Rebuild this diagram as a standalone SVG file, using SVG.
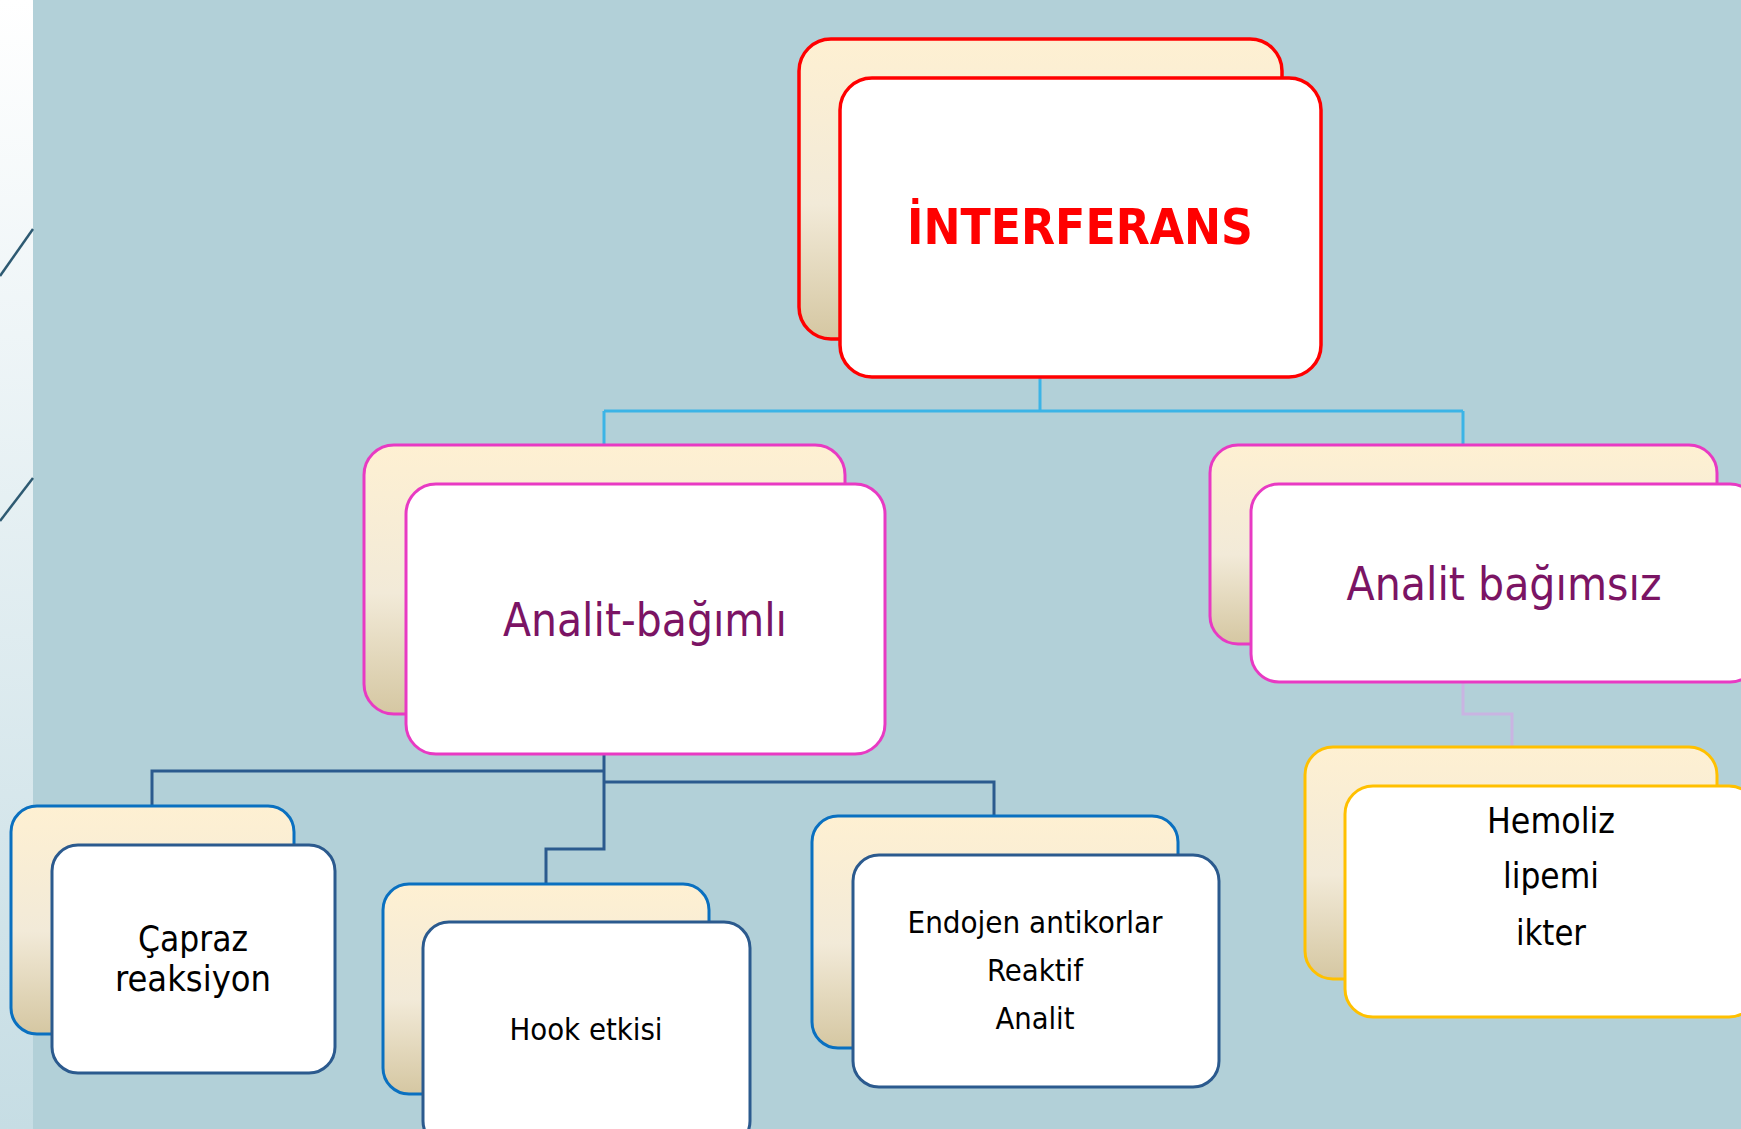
<svg xmlns="http://www.w3.org/2000/svg" width="1741" height="1129" viewBox="0 0 1741 1129">
<defs>
<linearGradient id="strip" x1="0" y1="0" x2="0" y2="1">
<stop offset="0" stop-color="#FFFFFF"/>
<stop offset="1" stop-color="#C6DDE4"/>
</linearGradient>
<linearGradient id="cream" x1="0" y1="0" x2="0" y2="1">
<stop offset="0" stop-color="#FEF0D2"/>
<stop offset="0.55" stop-color="#F2EAD8"/>
<stop offset="1" stop-color="#D5C7A2"/>
</linearGradient>
<style>
.back{fill:url(#cream);stroke-width:3}
.front{fill:#FFFFFF;stroke-width:3}
.red{stroke:#FF0000;stroke-width:3.5}
.pink{stroke:#E83AC3}
.amber{stroke:#FFC000}
.bb{stroke:#0A70C0}
.bf{stroke:#2B5A8E}
.conn{fill:none;stroke-width:3}
.t{font-family:"DejaVu Sans Condensed","DejaVu Sans",sans-serif;text-anchor:middle}
.black{fill:#000000}
.purple{fill:#7B1464}
</style>
</defs>
<rect x="0" y="0" width="1741" height="1129" fill="#B2D0D8"/>
<rect x="0" y="0" width="33" height="1129" fill="url(#strip)"/>
<g id="strip-lines" stroke="#2E5A72" stroke-width="2.5">
<line x1="0" y1="276" x2="33" y2="229"/>
<line x1="0" y1="521" x2="33" y2="478"/>
</g>
<g id="connectors">
<path class="conn" stroke="#3CB4E6" d="M1040 377 V411 M604 411 H1463 M604 411 V445 M1463 411 V445"/>
<path class="conn" stroke="#2B5A8E" d="M604 754 V849 H546 V884 M604 771 H152 V807 M604 782 H994 V816"/>
<path class="conn" stroke="#C9B4E2" d="M1463 682 V714 H1512 V747"/>
</g>
<g id="node-interferans">
<rect class="back red" x="799" y="39" width="483" height="300" rx="32"/>
<rect class="front red" x="840" y="78" width="481" height="299" rx="32"/>
<text class="t" x="1080" y="244" font-size="50" font-weight="bold" fill="#FF0000" textLength="346" lengthAdjust="spacingAndGlyphs">İNTERFERANS</text>
</g>
<g id="node-analit-bagimli">
<rect class="back pink" x="364" y="445" width="481" height="269" rx="30"/>
<rect class="front pink" x="406" y="484" width="479" height="270" rx="30"/>
<text class="t purple" x="645" y="636" font-size="46" textLength="284" lengthAdjust="spacingAndGlyphs">Analit-bağımlı</text>
</g>
<g id="node-analit-bagimsiz">
<rect class="back pink" x="1210" y="445" width="507" height="199" rx="28"/>
<rect class="front pink" x="1251" y="484" width="507" height="198" rx="28"/>
<text class="t purple" x="1504" y="600" font-size="46" textLength="315" lengthAdjust="spacingAndGlyphs">Analit bağımsız</text>
</g>
<g id="node-hemoliz">
<rect class="back amber" x="1305" y="747" width="412" height="232" rx="28"/>
<rect class="front amber" x="1345" y="786" width="412" height="231" rx="28"/>
<text class="t black" x="1551" y="833" font-size="36" textLength="128" lengthAdjust="spacingAndGlyphs">Hemoliz</text>
<text class="t black" x="1551" y="888" font-size="36" textLength="96" lengthAdjust="spacingAndGlyphs">lipemi</text>
<text class="t black" x="1551" y="945" font-size="36" textLength="70" lengthAdjust="spacingAndGlyphs">ikter</text>
</g>
<g id="node-capraz">
<rect class="back bb" x="11" y="806" width="283" height="228" rx="26"/>
<rect class="front bf" x="52" y="845" width="283" height="228" rx="26"/>
<text class="t black" x="193" y="951" font-size="36" textLength="110" lengthAdjust="spacingAndGlyphs">Çapraz</text>
<text class="t black" x="193" y="991" font-size="36" textLength="156" lengthAdjust="spacingAndGlyphs">reaksiyon</text>
</g>
<g id="node-hook">
<rect class="back bb" x="383" y="884" width="326" height="210" rx="26"/>
<rect class="front bf" x="423" y="922" width="327" height="225" rx="26"/>
<text class="t black" x="586" y="1040" font-size="31" textLength="153" lengthAdjust="spacingAndGlyphs">Hook etkisi</text>
</g>
<g id="node-endojen">
<rect class="back bb" x="812" y="816" width="366" height="232" rx="26"/>
<rect class="front bf" x="853" y="855" width="366" height="232" rx="26"/>
<text class="t black" x="1035" y="933" font-size="31" textLength="255" lengthAdjust="spacingAndGlyphs">Endojen antikorlar</text>
<text class="t black" x="1035" y="981" font-size="31" textLength="96" lengthAdjust="spacingAndGlyphs">Reaktif</text>
<text class="t black" x="1035" y="1029" font-size="31" textLength="79" lengthAdjust="spacingAndGlyphs">Analit</text>
</g>
</svg>
